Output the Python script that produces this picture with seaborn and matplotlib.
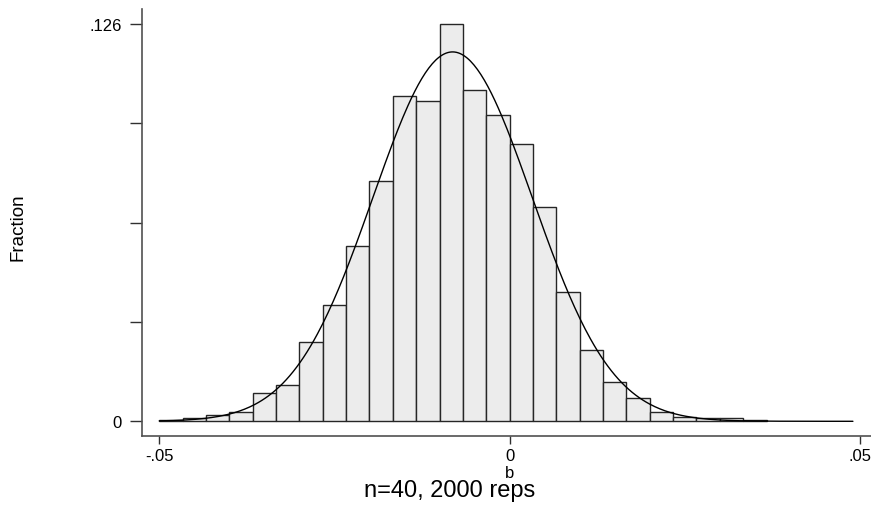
import numpy as np
import pandas as pd
import matplotlib
matplotlib.use("Agg")
import matplotlib.pyplot as plt
import seaborn as sns

# ---- data ----
bin_start = -0.05
bin_width = 0.1 / 30
fractions = [0.0005, 0.001, 0.002, 0.003, 0.009, 0.0115, 0.025, 0.037,
             0.0555, 0.076, 0.103, 0.1015, 0.126, 0.105, 0.097, 0.088,
             0.068, 0.041, 0.0225, 0.0125, 0.0075, 0.003, 0.0015, 0.001,
             0.001, 0.0005]
normal_mean = -0.00814
normal_sd = 0.01136
curve_range = (-0.05, 0.049)
x_ticks = [-0.05, 0.0, 0.05]
x_tick_labels = ["-.05", "0", ".05"]
y_ticks = [0.0, 0.0315, 0.063, 0.0945, 0.126]
y_tick_labels = ["0", "", "", "", ".126"]
title = "n=40, 2000 reps"
x_label = "b"
y_label = "Fraction"

sns.set_style("white")
plt.rcParams["font.family"] = ["Liberation Sans", "DejaVu Sans"]
plt.rcParams["text.color"] = "black"
plt.rcParams["hatch.linewidth"] = 0.3

n_bins = len(fractions)
edges = bin_start + bin_width * np.arange(n_bins + 1)
centers = (edges[:-1] + edges[1:]) / 2
df = pd.DataFrame({"b": centers, "frac": fractions})

fig = plt.figure(figsize=(8.71, 5.06), dpi=100)
ax = fig.add_axes([142 / 871, 1 - 437 / 506, 1 - 142 / 871, (437 - 10) / 506])

sns.histplot(data=df, x="b", weights="frac",
             binwidth=bin_width, binrange=(edges[0], edges[-1]),
             color="#ececec", alpha=1.0, edgecolor="#262626", linewidth=1.0,
             ax=ax)
for p in ax.patches:
    p.set_facecolor("#ececec")
    if hasattr(p, "set_hatchcolor"):
        p.set_hatch(".....")
        p.set_hatchcolor("#cfcfcf")

xs = np.linspace(curve_range[0], curve_range[1], 400)
pdf = bin_width * np.exp(-0.5 * ((xs - normal_mean) / normal_sd) ** 2) / (normal_sd * np.sqrt(2 * np.pi))
sns.lineplot(x=xs, y=pdf, color="black", linewidth=1.0, ax=ax)

ax.set_xlim(-0.05247, 0.05158)
ax.set_ylim(-0.00466, 0.13066)
ax.set_xticks(x_ticks)
ax.set_xticklabels(x_tick_labels, fontsize=12)
ax.set_yticks(y_ticks)
ax.set_yticklabels(y_tick_labels, fontsize=12)
ax.tick_params(axis="x", direction="out", length=6, width=1.0, pad=3, colors="#303030", labelcolor="black")
ax.tick_params(axis="y", direction="out", length=8.4, width=1.0, pad=6, colors="#303030", labelcolor="black")
ax.tick_params(bottom=True, left=True)

for s in ["top", "right"]:
    ax.spines[s].set_visible(False)
for s in ["left", "bottom"]:
    ax.spines[s].set_color("#505050")
    ax.spines[s].set_linewidth(1.2)

ax.set_xlabel("")
ax.set_ylabel("")
fig.text(509.7 / 871, 1 - 474 / 506, x_label, ha="center", va="center", fontsize=12)
fig.text(18.5 / 871, 1 - 227.5 / 506, y_label, ha="center", va="center", fontsize=13.5, rotation=90)
fig.text(449.5 / 871, 1 - 491 / 506, title, ha="center", va="center", fontsize=17)

fig.savefig("out.png", dpi=100)
